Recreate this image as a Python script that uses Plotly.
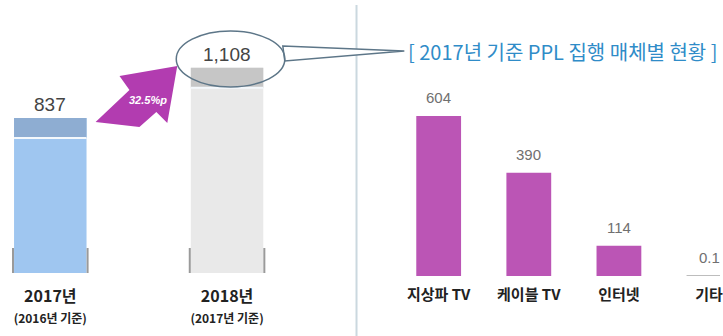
import plotly.graph_objects as go

# ---- data -------------------------------------------------------------
year_labels = ["2017년", "2018년"]
year_notes = ["(2016년 기준)", "(2017년 기준)"]
year_values = [837, 1108]
year_value_text = ["837", "1,108"]
growth_text = "32.5%p"

media_labels = ["지상파 TV", "케이블 TV", "인터넷", "기타"]
media_values = [604, 390, 114, 0.1]
media_title = "[ 2017년 기준 PPL 집행 매체별 현황 ]"

# ---- canvas helpers -----------------------------------------------------
W, H = 723, 336
KR = "Noto Sans CJK KR"
NUM = "Liberation Sans"


def px(x):
    return x / W


def py(y):
    return 1 - y / H


fig = go.Figure()

# ---- left panel: total PPL spend by year ------------------------------
xs_year = list(range(len(year_values)))
year_face = ["#9fc6f0", "#e9e9e9"]
year_cap = ["#8eadd2", "#c6c6c6"]
bar_w_year = 0.41
left_scale = 0.1852  # pixels per unit on the left axis

fig.add_trace(go.Bar(
    x=xs_year, y=year_values, width=bar_w_year,
    marker=dict(color=year_face, line=dict(width=0)),
    xaxis="x", yaxis="y", hoverinfo="skip", showlegend=False,
))

shapes = []
cap_units = 20 / left_scale
for i, v in enumerate(year_values):
    x0, x1 = i - bar_w_year / 2, i + bar_w_year / 2
    # darker top cap
    shapes.append(dict(type="rect", xref="x", yref="y", x0=x0, x1=x1,
                       y0=v - cap_units, y1=v, fillcolor=year_cap[i],
                       line=dict(width=0), layer="above"))
    # light edge under the cap
    shapes.append(dict(type="line", xref="x", yref="y", x0=x0, x1=x1,
                       y0=v - cap_units, y1=v - cap_units,
                       line=dict(color="#f4f8fc", width=2), layer="above"))
    # pedestal feet at the bottom corners
    for xe in (x0 - 0.006, x1 + 0.006):
        shapes.append(dict(type="line", xref="x", yref="y", x0=xe, x1=xe,
                           y0=0, y1=25 / left_scale,
                           line=dict(color="#9a9a9a", width=2), layer="above"))

left_ticks = [f"<b>{a}</b><br><span style='font-size:12px'><b>{b}</b></span>"
              for a, b in zip(year_labels, year_notes)]

annotations = []
for i, (v, t) in enumerate(zip(year_values, year_value_text)):
    annotations.append(dict(x=i, y=v, xref="x", yref="y", text=t,
                            showarrow=False, yanchor="bottom", yshift=1,
                            font=dict(family=NUM, size=19, color="#444444")))

# ---- right panel: spend by media type ----------------------------------
xs_media = list(range(len(media_values)))
bar_w_media = 0.497
fig.add_trace(go.Bar(
    x=xs_media, y=media_values, width=bar_w_media,
    marker=dict(color="#bb55b5",
                line=dict(color=["rgba(0,0,0,0)"] * 3 + ["#a8a8a8"], width=1)),
    xaxis="x2", yaxis="y2", hoverinfo="skip", showlegend=False,
))
for i, v in enumerate(media_values):
    annotations.append(dict(x=i, y=v, xref="x2", yref="y2", text=f"{v:g}",
                            showarrow=False, yanchor="bottom", yshift=8,
                            font=dict(family=NUM, size=15, color="#707070")))

annotations.append(dict(x=px(408), y=py(51), xref="paper", yref="paper",
                        xanchor="left", yanchor="middle", showarrow=False,
                        text=media_title,
                        font=dict(family=KR, size=20, color="#2f8cc8")))

# ---- decorations: growth arrow, callout bubble, divider -----------------
arrow_pts = [(178, 66), (120, 76), (130, 90), (96, 122), (140, 127),
             (157, 112), (168, 123)]
arrow_path = "M " + " L ".join(f"{px(x)},{py(y)}" for x, y in arrow_pts) + " Z"
shapes.append(dict(type="path", xref="paper", yref="paper", path=arrow_path,
                   fillcolor="#b23cb0", line=dict(width=0), layer="above"))
annotations.append(dict(x=px(149), y=py(100), xref="paper", yref="paper",
                        xanchor="center", yanchor="middle",
                        text="<b><i>" + growth_text + "</i></b>",
                        showarrow=False,
                        font=dict(family=NUM, size=11, color="white")))

tail = [(284, 46), (406, 51), (286, 61)]
tail_path = "M " + " L ".join(f"{px(x)},{py(y)}" for x, y in tail) + " Z"
shapes.append(dict(type="path", xref="paper", yref="paper", path=tail_path,
                   fillcolor="white", line=dict(color="#5d7688", width=1.5),
                   layer="above"))
shapes.append(dict(type="circle", xref="paper", yref="paper",
                   x0=px(177), x1=px(286), y0=py(87), y1=py(31),
                   line=dict(color="#5d7688", width=1.5), layer="above"))

shapes.append(dict(type="line", xref="paper", yref="paper",
                   x0=px(358), x1=px(358), y0=py(5), y1=0,
                   line=dict(color="#cbd8df", width=2), layer="below"))

# ---- layout -------------------------------------------------------------
fig.update_layout(
    width=W, height=H,
    margin=dict(l=0, r=0, t=0, b=0),
    paper_bgcolor="white", plot_bgcolor="white",
    showlegend=False,
    shapes=shapes, annotations=annotations,
    xaxis=dict(domain=[0, px(355)], range=[-0.2845, 1.7155], anchor="y",
               tickvals=xs_year, ticktext=left_ticks, ticks="",
               showgrid=False, zeroline=False, showline=False,
               ticklabelstandoff=12,
               tickfont=dict(family=KR, size=16, color="#222222")),
    yaxis=dict(domain=[63 / H, 1], range=[0, 273 / left_scale],
               visible=False, showgrid=False),
    xaxis2=dict(domain=[px(360), 1], range=[-0.8895, 3.1215], anchor="y2",
                tickvals=xs_media, ticktext=[f"<b>{m}</b>" for m in media_labels],
                ticks="", showgrid=False, zeroline=False, showline=False,
                ticklabelstandoff=8, ticklabeloverflow="allow",
                tickfont=dict(family=KR, size=15, color="#222222")),
    yaxis2=dict(domain=[60 / H, 1], range=[0, 276 / 0.265],
                visible=False, showgrid=False, anchor="x2"),
)

fig.write_html("out.html")
